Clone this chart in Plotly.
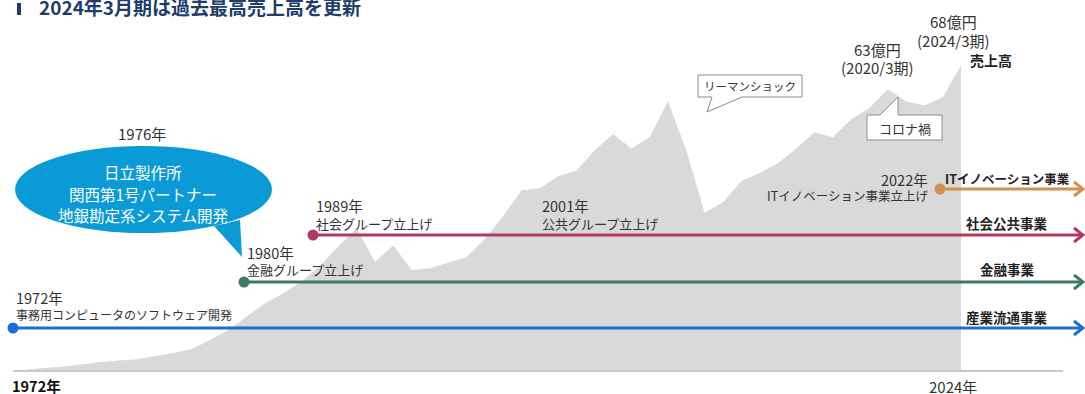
import plotly.graph_objects as go

W, H = 1085, 394
FONT = "Noto Sans CJK JP"

# ---- data ----
fiscal_years = list(range(1973, 2025))  # FY ending March
sales = [0.1, 0.4, 0.8, 1.2, 1.8, 2.1, 2.4, 3.1, 3.8, 4.7,
         6.7, 8.9, 12.0, 14.9, 17.1, 19.8, 23.2, 27.6, 31.6, 24.1,
         27.8, 22.3, 22.7, 24.0, 25.2, 29.2, 34.3, 40.1, 40.5, 43.2,
         44.5, 49.0, 52.6, 49.4, 51.9, 59.9, 49.0, 35.0, 37.4, 42.1,
         43.9, 46.1, 49.4, 53.0, 51.9, 55.9, 58.4, 62.6, 59.9, 59.0,
         60.8, 67.9]

businesses = ["ITイノベーション事業", "社会公共事業", "金融事業", "産業流通事業"]
biz_colors = ["#d3904f", "#b3395f", "#3a7b6c", "#1d6fd1"]
biz_start_px = [940, 313, 244, 13]
biz_y_px = [189, 235, 282, 328]

events = [("1972年", "事務用コンピュータのソフトウェア開発"),
          ("1980年", "金融グループ立上げ"),
          ("1989年", "社会グループ立上げ"),
          ("2001年", "公共グループ立上げ"),
          ("2022年", "ITイノベーション事業立上げ")]

# axis scale (pixel mapping)
PX_PER_YEAR = 18.314
X0_PX = 27.0
Y0_PX = 370.0
PX_PER_UNIT = 4.485
x_range = [1973 - X0_PX / PX_PER_YEAR, 1973 + (W - X0_PX) / PX_PER_YEAR]
y_range = [-(H - Y0_PX) / PX_PER_UNIT, Y0_PX / PX_PER_UNIT]

fig = go.Figure()

# sales area
fig.add_trace(go.Scatter(x=fiscal_years, y=sales, mode="lines", fill="tozeroy",
                         fillcolor="#d9d9d9", line=dict(width=0, color="#d9d9d9"),
                         hoverinfo="skip", showlegend=False))

# business lines (overlay pixel axes)
for name, col, sx, yy in zip(businesses, biz_colors, biz_start_px, biz_y_px):
    fig.add_trace(go.Scatter(x=[sx, 1082], y=[yy, yy], mode="lines",
                             line=dict(color=col, width=3.2), xaxis="x2", yaxis="y2",
                             hoverinfo="skip", showlegend=False))
    fig.add_trace(go.Scatter(x=[sx], y=[yy], mode="markers",
                             marker=dict(color=col, size=11, line=dict(width=0)),
                             xaxis="x2", yaxis="y2", hoverinfo="skip", showlegend=False))
    fig.add_trace(go.Scatter(x=[1074, 1083, 1074], y=[yy - 7, yy, yy + 7], mode="lines",
                             line=dict(color=col, width=3), xaxis="x2", yaxis="y2",
                             hoverinfo="skip", showlegend=False))

shapes = []
annotations = []

def txt(x, y, s, size=13, color="#333333", bold=False, xanchor="left", yanchor="middle"):
    if bold:
        s = "<b>" + s + "</b>"
    if xanchor == "left":
        x -= 3
    elif xanchor == "right":
        x += 3
    annotations.append(dict(x=x, y=y, xref="x2", yref="y2", text=s, showarrow=False,
                            xanchor=xanchor, yanchor=yanchor,
                            font=dict(family=FONT, size=size, color=color)))

# baseline
shapes.append(dict(type="line", xref="x2", yref="y2", x0=13, x1=1063, y0=371, y1=371,
                   line=dict(color="#c9c9c9", width=2), layer="above"))

# title
shapes.append(dict(type="rect", xref="x2", yref="y2", x0=17, x1=21, y0=3, y1=15,
                   fillcolor="#1f3d6b", line=dict(width=0)))
txt(40, 6, "2024年3月期は過去最高売上高を更新", size=19, color="#1f3d6b", bold=True)

# bubble
shapes.append(dict(type="circle", xref="x2", yref="y2", x0=15, x1=272, y0=146, y1=233,
                   fillcolor="#0a9bd6", line=dict(width=0)))
shapes.append(dict(type="path", xref="x2", yref="y2",
                   path="M 214,226 L 242,257 L 240,220 Z",
                   fillcolor="#0a9bd6", line=dict(width=0)))
txt(142, 133, "1976年", size=15, xanchor="center")
txt(143, 172, "日立製作所", size=15.5, color="white", xanchor="center")
txt(143, 194, "関西第1号パートナー", size=15.5, color="white", xanchor="center")
txt(143, 215, "地銀勘定系システム開発", size=15.5, color="white", xanchor="center")

# callouts
shapes.append(dict(type="path", xref="x2", yref="y2",
                   path="M 698,75 H 802 V 97 H 742 L 707,112 L 712,97 H 698 Z",
                   fillcolor="white", line=dict(color="#8c8c8c", width=1)))
txt(750, 86, "リーマンショック", size=11.5, xanchor="center")
shapes.append(dict(type="path", xref="x2", yref="y2",
                   path="M 867,115 H 880 L 898,97 L 898,115 H 942 V 140 H 867 Z",
                   fillcolor="white", line=dict(color="#8c8c8c", width=1)))
txt(905, 128, "コロナ禍", size=13, xanchor="center")

# sales labels
txt(877, 49, "63億円", size=15, xanchor="center")
txt(877, 67, "(2020/3期)", size=15, xanchor="center")
txt(953, 21, "68億円", size=15, xanchor="center")
txt(953, 40, "(2024/3期)", size=15, xanchor="center")
txt(971, 60, "売上高", size=14, color="#222222", bold=True)

# event labels
ev_pos = [(17, 297, 314, "left", 12), (248, 252, 269, "left", 13), (317, 205, 223, "left", 13),
          (543, 205, 223, "left", 13), (927, 179, 195, "right", 12.5)]
for (yr, desc), (ex, y1, y2, anc, dsz) in zip(events, ev_pos):
    txt(ex, y1, yr, size=14.5, xanchor=anc)
    txt(ex, y2, desc, size=dsz, xanchor=anc)

# business labels
biz_label_y = [178, 223, 269, 317]
biz_label_size = [12.5, 13.5, 13.5, 13.5]
for name, ly, sz in zip(businesses, biz_label_y, biz_label_size):
    txt(1007, ly, name, size=sz, color="#222222", bold=True, xanchor="center")

# axis labels
txt(13, 385, "1972年", size=14.5, color="#111111", bold=True)
txt(953, 386, "2024年", size=15, xanchor="center")

fig.update_layout(
    width=W, height=H, margin=dict(l=0, r=0, t=0, b=0),
    paper_bgcolor="white", plot_bgcolor="white",
    xaxis=dict(range=x_range, visible=False, fixedrange=True, domain=[0, 1]),
    yaxis=dict(range=y_range, visible=False, fixedrange=True, domain=[0, 1]),
    xaxis2=dict(range=[0, W], visible=False, overlaying="x", fixedrange=True),
    yaxis2=dict(range=[H, 0], visible=False, overlaying="y", fixedrange=True),
    shapes=shapes, annotations=annotations, showlegend=False,
)

fig.write_html("out.html", config={"displayModeBar": False})
